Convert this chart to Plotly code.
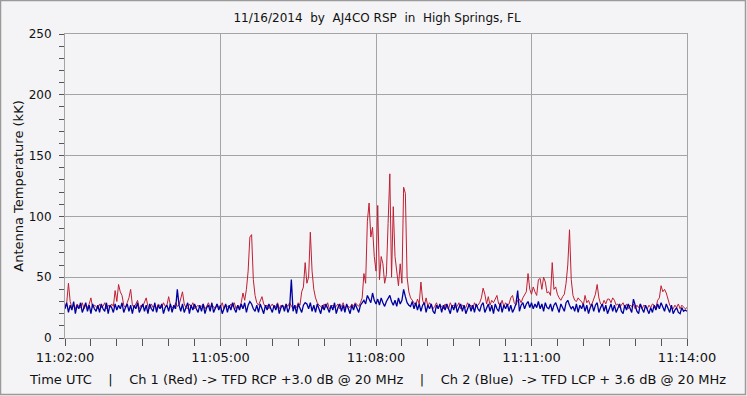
import plotly.graph_objects as go
import pandas as pd

# ---- data (sampled every 2 s from 11:02:00 UTC) ----
start_time = "2014-11-16 11:02:00"
sample_seconds = 2

ch1_red = [
    26,29,45,30,25,27,24,28,26,25,29,24,27,25,28,33,25,27,26,24,
    28,25,26,29,24,27,25,28,26,39,30,44,38,35,27,25,29,33,40,27,
    25,28,31,24,27,26,29,33,26,24,28,25,27,24,28,26,25,29,26,27,
    34,27,25,24,29,26,27,32,38,28,25,24,28,26,29,24,26,27,25,26,
    28,24,26,29,25,27,26,24,28,25,26,29,24,27,26,25,28,26,29,24,
    27,25,29,37,31,40,55,83,85,48,35,29,27,31,34,28,26,27,24,26,
    28,25,26,29,24,27,26,25,28,26,29,26,24,27,25,29,27,38,42,62,
    45,50,87,55,40,33,29,27,26,24,28,25,29,24,26,27,25,26,28,24,
    26,29,24,27,26,25,28,26,29,27,26,29,33,53,45,96,111,83,91,67,
    55,109,48,67,61,45,52,94,135,50,108,67,56,43,61,45,124,119,50,38,
    33,31,29,27,32,28,46,31,27,33,26,29,27,24,26,29,25,27,26,24,
    28,25,24,29,26,27,25,26,29,24,27,26,25,29,26,27,24,29,26,27,
    29,33,41,36,28,34,27,31,29,32,35,28,27,31,26,29,27,28,33,35,
    29,27,31,32,29,33,36,38,53,40,36,42,38,35,48,49,40,50,46,37,
    38,35,62,40,42,36,33,31,34,36,45,60,89,48,35,31,30,33,31,30,
    27,35,29,31,27,28,32,36,44,33,28,27,31,28,32,32,29,33,31,27,
    28,25,27,29,25,28,24,27,26,28,24,27,25,28,24,27,26,24,27,25,
    28,27,25,31,33,43,38,40,37,31,27,25,24,27,25,28,24,27,25,24,
    25,
]

ch2_blue = [
    24,29,21,27,23,30,20,27,24,29,21,25,29,22,27,20,28,24,22,27,
    21,28,24,22,29,20,27,25,21,28,23,27,24,29,21,25,28,22,27,20,
    27,24,29,21,25,28,22,27,20,28,24,22,29,21,27,24,28,20,25,27,
    22,28,21,27,24,40,27,22,28,21,25,29,20,27,23,28,24,21,27,22,
    28,20,25,27,22,29,21,25,28,23,27,20,25,28,21,27,23,29,24,21,
    27,23,28,24,29,21,27,30,28,24,22,27,21,28,24,20,27,23,28,24,
    21,27,23,28,20,25,27,22,28,21,25,48,22,27,20,28,24,21,27,29,
    28,24,29,22,27,21,28,24,20,27,23,28,24,21,27,23,29,20,25,28,
    22,27,21,28,24,20,27,23,28,24,21,27,29,31,28,35,32,29,37,31,
    28,32,27,33,29,26,30,32,35,30,27,31,26,33,28,31,40,34,29,27,
    26,30,24,29,23,28,22,27,29,21,27,24,28,22,20,27,24,28,21,27,
    23,28,24,20,27,23,29,21,25,28,22,27,20,25,28,22,27,21,28,24,
    22,27,29,21,25,28,22,27,20,28,24,22,29,21,27,24,28,22,27,21,
    24,28,39,22,27,29,24,28,30,25,29,24,28,25,30,24,28,22,29,25,
    24,28,22,27,29,24,21,28,25,22,29,31,27,24,26,22,28,21,27,24,
    28,22,27,20,25,28,22,27,29,21,25,28,22,27,20,25,28,22,27,21,
    24,28,22,20,27,23,28,24,21,32,27,22,20,28,24,21,27,23,20,25,
    21,27,23,28,24,29,25,22,28,24,21,27,20,23,25,21,20,25,22,23,
    22,
]

x_range = ["2014-11-16 11:02:00", "2014-11-16 11:14:00"]
y_range = [0, 250]

title_text = "11/16/2014  by  AJ4CO RSP  in  High Springs, FL"
y_title = "Antenna Temperature (kK)"
footer_text = ("Time UTC    |    Ch 1 (Red) -> TFD RCP +3.0 dB @ 20 MHz    |    "
               "Ch 2 (Blue)  -> TFD LCP + 3.6 dB @ 20 MHz")

t_red = pd.date_range(start_time, periods=len(ch1_red), freq=f"{sample_seconds}s")
t_blue = pd.date_range(start_time, periods=len(ch2_blue), freq=f"{sample_seconds}s")

# ---- figure ----
W, H = 747, 396
L, R, T, B = 65, 60, 34, 58
pw, ph = W - L - R, H - T - B
FONT = "DejaVu Sans"
BG = "#f4f4f6"
GRID = "#a4a4a4"
TXT = "#111111"

fig = go.Figure()
fig.add_trace(go.Scatter(x=t_red, y=ch1_red, mode="lines",
                         line=dict(color="#c01f33", width=1), name="Ch 1"))
fig.add_trace(go.Scatter(x=t_blue, y=ch2_blue, mode="lines",
                         line=dict(color="#0000a0", width=1.3), name="Ch 2"))

fig.update_layout(
    width=W, height=H,
    margin=dict(l=L, r=R, t=T, b=B, pad=0, autoexpand=False),
    paper_bgcolor=BG, plot_bgcolor=BG,
    showlegend=False,
    font=dict(family=FONT, size=12, color=TXT),
    title=dict(text=title_text, x=377 / W, xref="container", xanchor="center",
               y=1 - 18 / H, yref="container", yanchor="middle",
               font=dict(family=FONT, size=12, color=TXT)),
)

fig.update_xaxes(
    type="date", range=x_range, automargin=False,
    tick0="2014-11-16 11:02:00", dtick=180000, tickformat="%H:%M:%S",
    showgrid=True, gridcolor=GRID, gridwidth=1,
    showline=True, linecolor=GRID, linewidth=1, mirror=True,
    ticks="outside", ticklen=7, tickcolor="#555", tickwidth=1,
    minor=dict(dtick=30000, tick0="2014-11-16 11:02:00", ticks="outside",
               ticklen=7, tickcolor="#555", showgrid=False),
    zeroline=False,
    tickfont=dict(family=FONT, size=13, color=TXT),
)
fig.update_yaxes(
    range=y_range, tick0=0, dtick=50, automargin=False,
    showgrid=True, gridcolor=GRID, gridwidth=1,
    showline=True, linecolor=GRID, linewidth=1, mirror=True,
    ticks="outside", ticklen=5, tickcolor="#555", tickwidth=1,
    ticklabelstandoff=5,
    minor=dict(dtick=10, ticks="outside", ticklen=5, tickcolor="#555", showgrid=False),
    zeroline=False,
    tickfont=dict(family=FONT, size=12, color=TXT),
    title=dict(text=y_title, standoff=2, font=dict(family=FONT, size=13, color=TXT)),
)

# footer text
fig.add_annotation(text=footer_text, xref="paper", yref="paper",
                   x=(377 - L) / pw, y=(H - B - 379) / ph,
                   xanchor="center", yanchor="middle", showarrow=False,
                   font=dict(family=FONT, size=13, color=TXT))

# outer frame of the image
fig.add_shape(type="rect", xref="paper", yref="paper",
              x0=(0.5 - L) / pw, x1=(W - 1.5 - L) / pw,
              y0=(H - B - (H - 1.5)) / ph, y1=(H - B - 0.5) / ph,
              line=dict(color="#9a9a9a", width=1.5), fillcolor="rgba(0,0,0,0)",
              layer="below")

fig.write_html("out.html",
               config={"displayModeBar": False},
               post_script="document.body.style.margin='0';document.body.style.padding='0';")
